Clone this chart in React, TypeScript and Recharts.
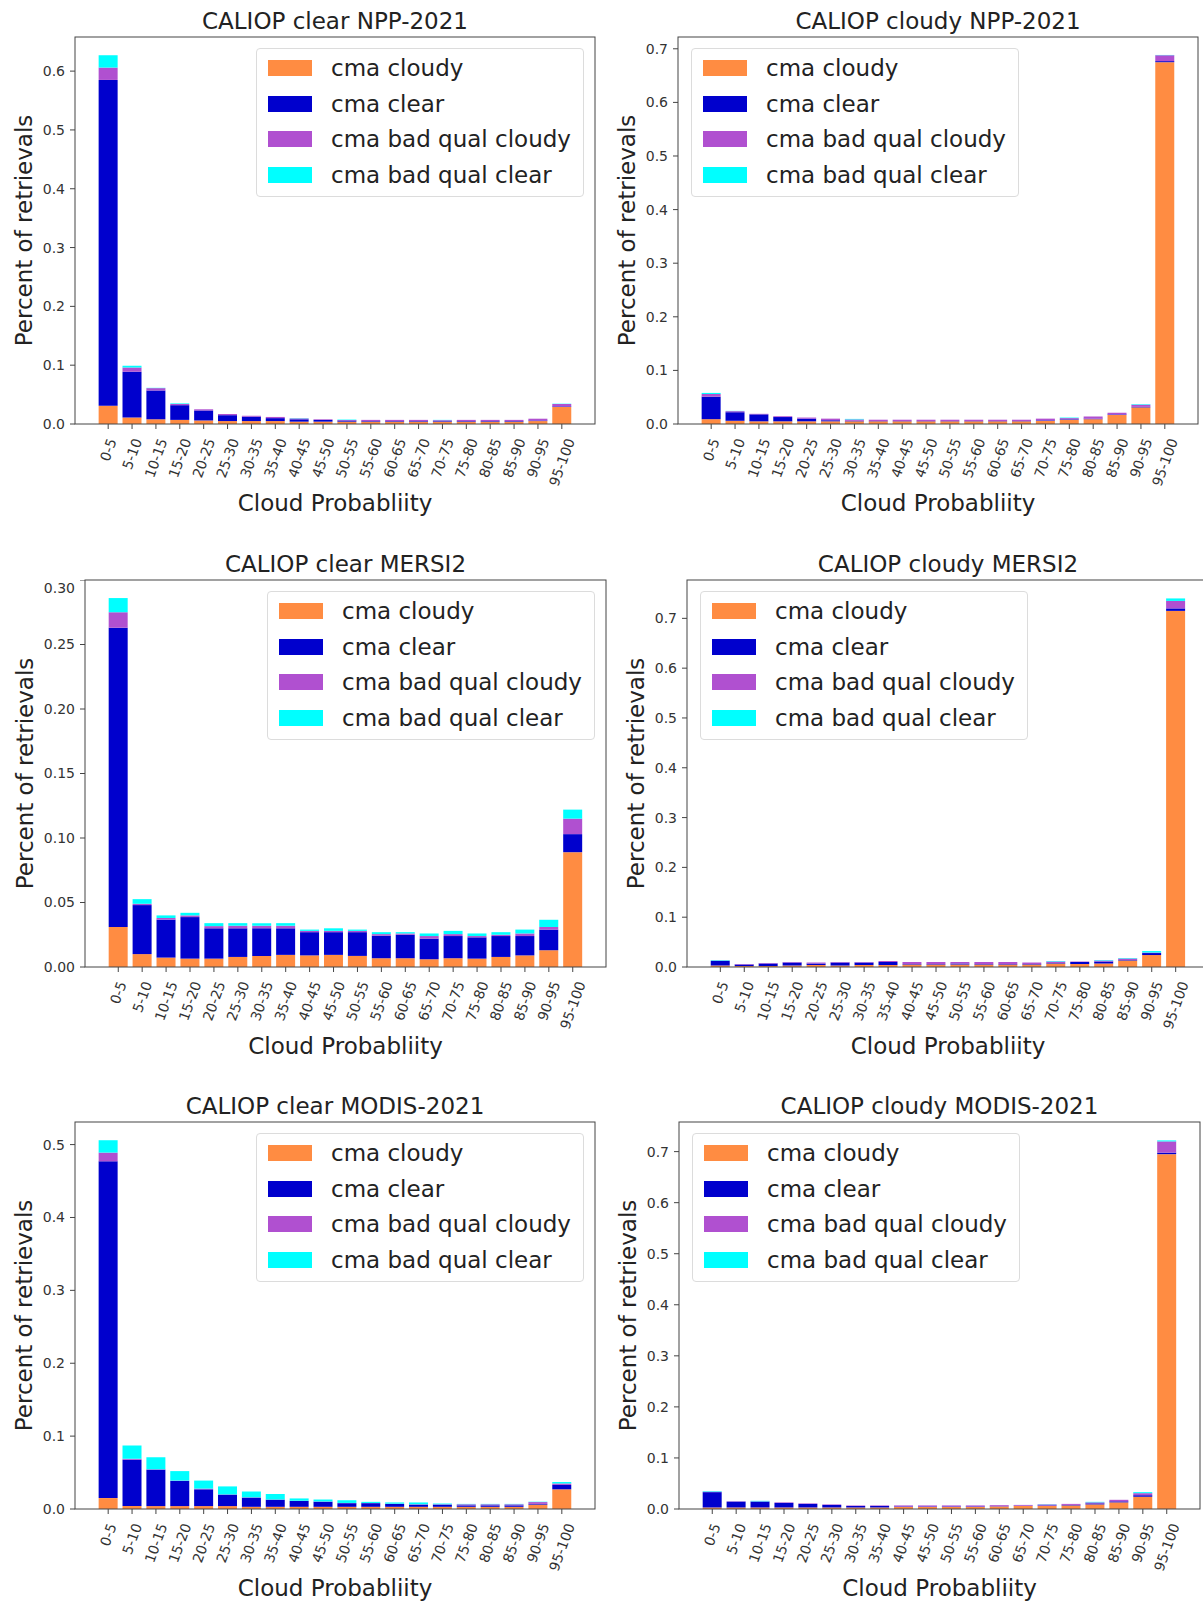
import React from 'react';
import { BarChart, Bar, XAxis, YAxis, Legend } from 'recharts';

const FONT = '"DejaVu Sans", sans-serif';

const categories = [
  '0-5', '5-10', '10-15', '15-20', '20-25', '25-30', '30-35', '35-40', '40-45', '45-50',
  '50-55', '55-60', '60-65', '65-70', '70-75', '75-80', '80-85', '85-90', '90-95', '95-100',
];

// CALIOP clear NPP-2021
const nppClearCloudy = [0.031, 0.011, 0.008, 0.007, 0.006, 0.005, 0.005, 0.005, 0.004, 0.004, 0.004, 0.004, 0.004, 0.004, 0.004, 0.004, 0.004, 0.004, 0.005, 0.029];
const nppClearClear = [0.554, 0.078, 0.049, 0.025, 0.017, 0.01, 0.0075, 0.005, 0.004, 0.003, 0.002, 0.001, 0.001, 0.001, 0.001, 0.001, 0.001, 0.001, 0.001, 0.001];
const nppClearBadCloudy = [0.021, 0.007, 0.004, 0.002, 0.002, 0.002, 0.0015, 0.002, 0.0015, 0.001, 0.0008, 0.002, 0.002, 0.002, 0.0015, 0.002, 0.002, 0.002, 0.003, 0.004];
const nppClearBadClear = [0.021, 0.003, 0.0005, 0.001, 0, 0, 0, 0, 0.0005, 0, 0.0007, 0, 0, 0, 0.0005, 0, 0, 0, 0, 0.0005];

// CALIOP cloudy NPP-2021
const nppCloudyCloudy = [0.009, 0.006, 0.005, 0.005, 0.005, 0.005, 0.005, 0.005, 0.005, 0.005, 0.005, 0.005, 0.005, 0.005, 0.006, 0.008, 0.009, 0.017, 0.031, 0.675];
const nppCloudyClear = [0.042, 0.016, 0.013, 0.008, 0.005, 0.002, 0.001, 0.0005, 0.0005, 0.0005, 0.0005, 0.0005, 0.0005, 0.0005, 0.001, 0.001, 0.001, 0.001, 0.001, 0.002];
const nppCloudyBadCloudy = [0.005, 0.002, 0.001, 0.0015, 0.002, 0.003, 0.0025, 0.0025, 0.0025, 0.0025, 0.0025, 0.0025, 0.0025, 0.0025, 0.003, 0.002, 0.004, 0.003, 0.004, 0.011];
const nppCloudyBadClear = [0.002, 0.0005, 0, 0, 0, 0, 0.001, 0, 0, 0, 0, 0, 0, 0, 0, 0.001, 0, 0, 0.001, 0.0005];

// CALIOP clear MERSI2
const mersiClearCloudy = [0.031, 0.01, 0.0073, 0.0065, 0.0065, 0.0078, 0.0086, 0.0094, 0.009, 0.0094, 0.0086, 0.0068, 0.0068, 0.006, 0.0068, 0.0065, 0.0078, 0.009, 0.013, 0.089];
const mersiClearClear = [0.232, 0.038, 0.0294, 0.0322, 0.0235, 0.0222, 0.0214, 0.0206, 0.018, 0.0176, 0.0184, 0.0175, 0.0182, 0.016, 0.0172, 0.0165, 0.0162, 0.015, 0.016, 0.014];
const mersiClearBadCloudy = [0.012, 0.001, 0.0013, 0.0013, 0.0017, 0.002, 0.002, 0.002, 0.001, 0.001, 0.001, 0.0012, 0.001, 0.002, 0.0015, 0.001, 0.001, 0.002, 0.002, 0.012];
const mersiClearBadClear = [0.011, 0.0036, 0.002, 0.002, 0.0023, 0.002, 0.002, 0.002, 0.001, 0.002, 0.001, 0.0015, 0.001, 0.002, 0.0025, 0.002, 0.002, 0.003, 0.0056, 0.007];

// CALIOP cloudy MERSI2
const mersiCloudyCloudy = [0.003, 0.002, 0.002, 0.003, 0.004, 0.003, 0.004, 0.004, 0.005, 0.005, 0.005, 0.005, 0.005, 0.005, 0.007, 0.006, 0.007, 0.013, 0.024, 0.715];
const mersiCloudyClear = [0.009, 0.003, 0.005, 0.006, 0.003, 0.006, 0.005, 0.006, 0.001, 0.001, 0.002, 0.001, 0.001, 0.001, 0.001, 0.004, 0.004, 0.001, 0.004, 0.005];
const mersiCloudyBadCloudy = [0.001, 0.001, 0.001, 0.001, 0.002, 0.001, 0.001, 0.002, 0.004, 0.004, 0.003, 0.004, 0.004, 0.003, 0.003, 0.001, 0.002, 0.003, 0.001, 0.015];
const mersiCloudyBadClear = [0.001, 0, 0, 0, 0, 0, 0, 0, 0, 0, 0, 0, 0, 0, 0.001, 0, 0.001, 0.001, 0.003, 0.005];

// CALIOP clear MODIS-2021
const modisClearCloudy = [0.015, 0.004, 0.004, 0.004, 0.004, 0.004, 0.003, 0.003, 0.003, 0.003, 0.003, 0.003, 0.003, 0.003, 0.003, 0.003, 0.003, 0.003, 0.006, 0.027];
const modisClearClear = [0.462, 0.0635, 0.05, 0.0345, 0.023, 0.0157, 0.0126, 0.0098, 0.008, 0.007, 0.005, 0.005, 0.004, 0.003, 0.003, 0.002, 0.002, 0.002, 0.001, 0.006];
const modisClearBadCloudy = [0.012, 0.0015, 0.0005, 0.0005, 0.001, 0.0003, 0.0004, 0.0002, 0.0003, 0.0003, 0.0003, 0.0003, 0.0003, 0.0005, 0.0005, 0.0015, 0.0015, 0.0015, 0.0025, 0.002];
const modisClearBadClear = [0.017, 0.018, 0.0165, 0.013, 0.011, 0.011, 0.008, 0.0076, 0.0032, 0.0027, 0.0037, 0.0015, 0.0017, 0.0025, 0.001, 0.0005, 0.0005, 0.0005, 0.0005, 0.002];

// CALIOP cloudy MODIS-2021
const modisCloudyCloudy = [0.003, 0.003, 0.003, 0.003, 0.003, 0.003, 0.003, 0.003, 0.004, 0.004, 0.004, 0.004, 0.005, 0.006, 0.006, 0.007, 0.009, 0.013, 0.024, 0.695];
const modisCloudyClear = [0.03, 0.0115, 0.0115, 0.009, 0.007, 0.005, 0.003, 0.003, 0.001, 0.001, 0.001, 0.001, 0.0005, 0.0005, 0.001, 0.001, 0.002, 0.002, 0.003, 0.003];
const modisCloudyBadCloudy = [0.001, 0.0005, 0.0005, 0.001, 0.001, 0.001, 0.001, 0.001, 0.002, 0.002, 0.002, 0.002, 0.002, 0.0015, 0.002, 0.002, 0.002, 0.003, 0.004, 0.022];
const modisCloudyBadClear = [0.001, 0, 0.001, 0, 0, 0, 0, 0, 0, 0, 0, 0, 0, 0, 0.0005, 0, 0.001, 0, 0.002, 0.002];

const ticksTenth6 = [0, 0.1, 0.2, 0.3, 0.4, 0.5, 0.6];
const ticksTenth7 = [0, 0.1, 0.2, 0.3, 0.4, 0.5, 0.6, 0.7];
const ticksTenth5 = [0, 0.1, 0.2, 0.3, 0.4, 0.5];
const ticksTwentieth = [0, 0.05, 0.1, 0.15, 0.2, 0.25, 0.3];

const SERIES = [
  { key: 'cloudy', name: 'cma cloudy', color: '#FF8C42' },
  { key: 'clear', name: 'cma clear', color: '#0000CD' },
  { key: 'badCloudy', name: 'cma bad qual cloudy', color: '#B050D0' },
  { key: 'badClear', name: 'cma bad qual clear', color: '#00FFFF' },
];

interface PanelDef {
  title: string;
  cloudy: number[];
  clear: number[];
  badCloudy: number[];
  badClear: number[];
  yMax: number;
  yTicks: number[];
  decimals: number;
  left: number;
  top: number;
  right: number;
  bottom: number;
  legendLeft: boolean;
  yLabelGap: number;
}

const PANELS: PanelDef[] = [
  { title: 'CALIOP clear NPP-2021', cloudy: nppClearCloudy, clear: nppClearClear, badCloudy: nppClearBadCloudy, badClear: nppClearBadClear, yMax: 0.658, yTicks: ticksTenth6, decimals: 1, left: 75, top: 37, right: 595, bottom: 424, legendLeft: false, yLabelGap: 43 },
  { title: 'CALIOP cloudy NPP-2021', cloudy: nppCloudyCloudy, clear: nppCloudyClear, badCloudy: nppCloudyBadCloudy, badClear: nppCloudyBadClear, yMax: 0.722, yTicks: ticksTenth7, decimals: 1, left: 678, top: 37, right: 1198, bottom: 424, legendLeft: true, yLabelGap: 43 },
  { title: 'CALIOP clear MERSI2', cloudy: mersiClearCloudy, clear: mersiClearClear, badCloudy: mersiClearBadCloudy, badClear: mersiClearBadClear, yMax: 0.3, yTicks: ticksTwentieth, decimals: 2, left: 85, top: 580, right: 606, bottom: 967, legendLeft: false, yLabelGap: 52 },
  { title: 'CALIOP cloudy MERSI2', cloudy: mersiCloudyCloudy, clear: mersiCloudyClear, badCloudy: mersiCloudyBadCloudy, badClear: mersiCloudyBadClear, yMax: 0.777, yTicks: ticksTenth7, decimals: 1, left: 687, top: 580, right: 1209, bottom: 967, legendLeft: true, yLabelGap: 43 },
  { title: 'CALIOP clear MODIS-2021', cloudy: modisClearCloudy, clear: modisClearClear, badCloudy: modisClearBadCloudy, badClear: modisClearBadClear, yMax: 0.531, yTicks: ticksTenth5, decimals: 1, left: 75, top: 1122, right: 595, bottom: 1509, legendLeft: false, yLabelGap: 43 },
  { title: 'CALIOP cloudy MODIS-2021', cloudy: modisCloudyCloudy, clear: modisCloudyClear, badCloudy: modisCloudyBadCloudy, badClear: modisCloudyBadClear, yMax: 0.758, yTicks: ticksTenth7, decimals: 1, left: 679, top: 1122, right: 1200, bottom: 1509, legendLeft: true, yLabelGap: 43 },
];

const Y_W = 70;
const X_H = 100;
const TICK_FS = 14;
const LEGEND_W = 328;
const LEGEND_H = 149;
const ROT = (70 * Math.PI) / 180;

// rotated x tick label, centred under the tick like matplotlib's rotation=70
const RotatedTick = (props: any) => {
  const { x, y, payload } = props;
  const label = String(payload.value);
  const len = label.split('').reduce((s, c) => s + (c === '-' ? 0.361 : 0.636), 0) * TICK_FS;
  const ext = len * Math.sin(ROT) + TICK_FS * 0.8 * Math.cos(ROT);
  const cy = y + 6 + ext / 2;
  return (
    <text
      x={x}
      y={cy}
      transform={`rotate(-70 ${x} ${cy})`}
      textAnchor="middle"
      dominantBaseline="central"
      fontSize={TICK_FS}
      fontFamily={FONT}
      fill="#333"
    >
      {label}
    </text>
  );
};

const LegendBox = () => (
  <div
    style={{
      width: LEGEND_W,
      height: LEGEND_H,
      boxSizing: 'border-box',
      border: '1px solid #dcdcdc',
      borderRadius: 4,
      background: 'rgba(255,255,255,0.85)',
      paddingTop: 1,
    }}
  >
    {SERIES.map((s) => (
      <div key={s.key} style={{ height: 35.8, display: 'flex', alignItems: 'center' }}>
        <span style={{ display: 'inline-block', width: 44, height: 16, marginLeft: 11, background: s.color }} />
        <span style={{ marginLeft: 19, fontSize: 23, lineHeight: '26px', color: '#222', fontFamily: FONT }}>{s.name}</span>
      </div>
    ))}
  </div>
);

const Panel: React.FC<{ p: PanelDef }> = ({ p }) => {
  const plotW = p.right - p.left;
  const plotH = p.bottom - p.top;
  const w = Y_W + plotW;
  const h = plotH + X_H;
  // matplotlib default 5% x-margins around bars of width 0.8
  const pad = (plotW * 0.89) / 21.78;
  const rows = categories.map((bin, i) => ({
    bin,
    cloudy: p.cloudy[i],
    clear: p.clear[i],
    badCloudy: p.badCloudy[i],
    badClear: p.badClear[i],
  }));
  const legendX = p.legendLeft ? Y_W + 13 : Y_W + plotW - 11 - LEGEND_W;

  return (
    <div style={{ position: 'absolute', left: p.left - Y_W, top: p.top, width: w, height: h }}>
      <BarChart width={w} height={h} data={rows} margin={{ top: 0, right: 0, bottom: 0, left: 0 }} barCategoryGap="10%">
        <XAxis
          dataKey="bin"
          interval={0}
          height={X_H}
          padding={{ left: pad, right: pad }}
          axisLine={false}
          tickLine={{ stroke: '#444' }}
          tickSize={5}
          tickMargin={2}
          tick={(props: any) => <RotatedTick {...props} />}
        />
        <YAxis
          width={Y_W}
          type="number"
          domain={[0, p.yMax]}
          ticks={p.yTicks}
          allowDataOverflow
          axisLine={false}
          tickLine={{ stroke: '#444' }}
          tickSize={5}
          tickMargin={5}
          tickFormatter={(v: number) => v.toFixed(p.decimals)}
          tick={{ fontSize: TICK_FS, fill: '#333', fontFamily: FONT }}
        />
        <Legend
          layout="vertical"
          align="center"
          verticalAlign="middle"
          content={() => <LegendBox />}
          wrapperStyle={{ left: legendX, top: 11, width: LEGEND_W, height: LEGEND_H }}
        />
        {SERIES.map((s) => (
          <Bar key={s.key} dataKey={s.key} name={s.name} stackId="a" fill={s.color} isAnimationActive={false} />
        ))}
      </BarChart>
    </div>
  );
};

export default function App() {
  return (
    <div
      style={{
        position: 'absolute',
        left: 0,
        top: 0,
        width: 1203,
        height: 1605,
        overflow: 'hidden',
        background: '#fff',
        fontFamily: FONT,
      }}
    >
      {PANELS.map((p) => (
        <Panel key={p.title} p={p} />
      ))}
      <svg
        width={1203}
        height={1605}
        style={{ position: 'absolute', left: 0, top: 0, pointerEvents: 'none' }}
      >
        {PANELS.map((p) => {
          const cx = (p.left + p.right) / 2;
          const cy = (p.top + p.bottom) / 2;
          const lx = p.left - p.yLabelGap;
          return (
            <g key={p.title} fontFamily={FONT} fill="#222">
              <rect x={p.left} y={p.top} width={p.right - p.left} height={p.bottom - p.top} fill="none" stroke="#444" strokeWidth={1} />
              <text x={cx} y={p.top - 8} textAnchor="middle" fontSize={23}>
                {p.title}
              </text>
              <text x={cx} y={p.bottom + 87} textAnchor="middle" fontSize={23}>
                Cloud Probabliity
              </text>
              <text x={lx} y={cy} transform={`rotate(-90 ${lx} ${cy})`} textAnchor="middle" fontSize={23}>
                Percent of retrievals
              </text>
            </g>
          );
        })}
      </svg>
    </div>
  );
}
